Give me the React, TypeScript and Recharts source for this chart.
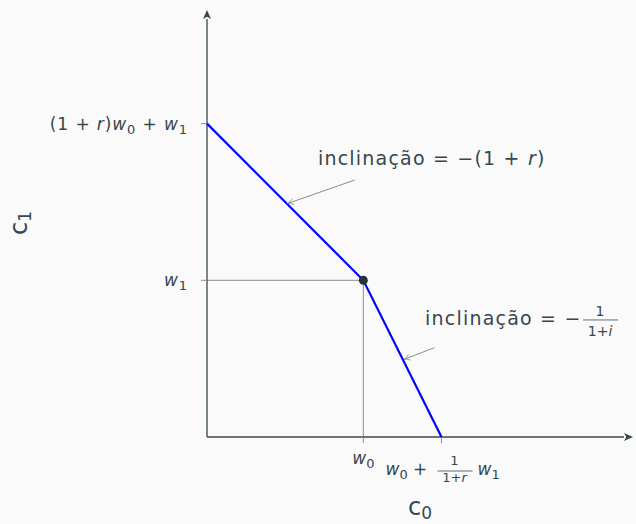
import { ComposedChart, Line, XAxis, YAxis, ReferenceLine, ReferenceDot } from 'recharts'

// budget line: endowment point (w0, w1) with r = 1
const c0 = [0, 2, 3]
const c1 = [4, 2, 0]
const xTicks = [2, 3]
const yTicks = [2, 4]
const endowment = [2, 2]
const axisMax = 5.45

// annotation anchors (data units): [x, y]
const note1At = [1.42, 3.47]
const note1Arrow = [[1.89, 3.28], [1.03, 2.98]]
const note2At = [2.79, 1.43]
const note2Arrow = [[2.91, 1.14], [2.52, 0.99]]

const data = c0.map((x, i) => ({ c0: x, c1: c1[i] }))

const INK = '#37474f'
const GRAY = '#8c8c8c'
const FONT = '"DejaVu Sans", sans-serif'

function YTick({ x, y, payload }: any) {
  return (
    <text x={x - 11} y={y + 6} textAnchor="end" fill={INK} fontSize={17} fontFamily={FONT} letterSpacing={0.9}>
      {payload.value === 4 ? (
        <>
          <tspan>(1 + </tspan>
          <tspan fontStyle="italic">r</tspan>
          <tspan>)</tspan>
          <tspan fontStyle="italic">w</tspan>
          <tspan fontSize={13} dy={4}>0</tspan>
          <tspan dy={-4}> + </tspan>
          <tspan fontStyle="italic">w</tspan>
          <tspan fontSize={13} dy={4}>1</tspan>
        </>
      ) : (
        <>
          <tspan fontStyle="italic">w</tspan>
          <tspan fontSize={13} dy={4}>1</tspan>
        </>
      )}
    </text>
  )
}

function XTick({ x, y, payload }: any) {
  if (payload.value === 2) {
    return (
      <text x={x} y={y + 19} textAnchor="middle" fill={INK} fontSize={17} fontFamily={FONT}>
        <tspan fontStyle="italic">w</tspan>
        <tspan fontSize={13} dy={4}>0</tspan>
      </text>
    )
  }
  const base = y + 30
  return (
    <g fill={INK} fontFamily={FONT} fontSize={17}>
      <text x={x - 56} y={base}>
        <tspan fontStyle="italic">w</tspan>
        <tspan fontSize={13} dy={4}>0</tspan>
        <tspan dy={-4}> +</tspan>
      </text>
      <text x={x + 13} y={base - 10} textAnchor="middle" fontSize={13}>1</text>
      <line x1={x - 4} x2={x + 31} y1={base - 4} y2={base - 4} stroke={INK} strokeWidth={0.8} />
      <text x={x + 13} y={base + 7} textAnchor="middle" fontSize={13}>
        <tspan>1+</tspan>
        <tspan fontStyle="italic">r</tspan>
      </text>
      <text x={x + 36} y={base}>
        <tspan fontStyle="italic">w</tspan>
        <tspan fontSize={13} dy={4}>1</tspan>
      </text>
    </g>
  )
}

function Note1({ cx, cy }: any) {
  return (
    <text x={cx} y={cy} fill={INK} fontSize={19} fontFamily={FONT} letterSpacing={1.2}>
      <tspan>inclinação = −(1 + </tspan>
      <tspan fontStyle="italic">r</tspan>
      <tspan>)</tspan>
    </text>
  )
}

function Note2({ cx, cy }: any) {
  return (
    <g fill={INK} fontFamily={FONT} fontSize={19}>
      <text x={cx} y={cy} letterSpacing={1.2}>inclinação = −</text>
      <text x={cx + 175} y={cy - 9} textAnchor="middle" fontSize={14}>1</text>
      <line x1={cx + 158} x2={cx + 193} y1={cy - 5} y2={cy - 5} stroke={INK} strokeWidth={0.8} />
      <text x={cx + 175} y={cy + 11} textAnchor="middle" fontSize={14}>
        <tspan>1+</tspan>
        <tspan fontStyle="italic">i</tspan>
      </text>
    </g>
  )
}

function arrowShape(filled: boolean, color: string, len: number, half: number, width: number) {
  return (p: any) => {
    const { x1, y1, x2, y2 } = p
    const a = Math.atan2(y2 - y1, x2 - x1)
    const bx = x2 - len * Math.cos(a)
    const by = y2 - len * Math.sin(a)
    const px = -Math.sin(a) * half
    const py = Math.cos(a) * half
    const qx = x2 - len * 0.4 * Math.cos(a)
    const qy = y2 - len * 0.4 * Math.sin(a)
    return (
      <g>
        <line x1={x1} y1={y1} x2={filled ? bx : x2} y2={filled ? by : y2} stroke={color} strokeWidth={width} />
        {filled ? (
          <path
            d={`M${x2},${y2} L${bx + px},${by + py} L${bx + len * 0.25 * Math.cos(a)},${by + len * 0.25 * Math.sin(a)} L${bx - px},${by - py} Z`}
            fill={color}
          />
        ) : (
          <path
            d={`M${bx + px},${by + py} Q${qx},${qy} ${x2},${y2} Q${qx},${qy} ${bx - px},${by - py}`}
            fill="none"
            stroke={color}
            strokeWidth={0.8}
          />
        )}
      </g>
    )
  }
}

export default function App() {
  return (
    <div style={{ position: 'absolute', left: 0, top: 0, width: 636, height: 524, background: '#fafafa' }}>
      <ComposedChart width={636} height={524} data={data} margin={{ top: 10, right: 3, bottom: 0, left: 0 }}>
        <XAxis
          dataKey="c0"
          type="number"
          domain={[0, axisMax]}
          ticks={xTicks}
          axisLine={false}
          tickLine={{ stroke: GRAY }}
          tickSize={6}
          tick={<XTick />}
          height={87}
        />
        <YAxis
          type="number"
          domain={[0, axisMax]}
          ticks={yTicks}
          axisLine={false}
          tickLine={{ stroke: GRAY }}
          tickSize={6}
          tick={<YTick />}
          width={207}
        />
        <ReferenceLine segment={[{ x: 0, y: endowment[1] }, { x: endowment[0], y: endowment[1] }]} stroke={GRAY} />
        <ReferenceLine segment={[{ x: endowment[0], y: 0 }, { x: endowment[0], y: endowment[1] }]} stroke={GRAY} />
        <ReferenceLine segment={[{ x: 0, y: 0 }, { x: axisMax, y: 0 }]} shape={arrowShape(true, INK, 9, 4, 1.3)} />
        <ReferenceLine segment={[{ x: 0, y: 0 }, { x: 0, y: axisMax }]} shape={arrowShape(true, INK, 9, 4, 1.3)} />
        <Line dataKey="c1" stroke="#0000ff" strokeWidth={2.2} dot={false} isAnimationActive={false} />
        <ReferenceDot x={endowment[0]} y={endowment[1]} r={4.5} fill="#263238" stroke="none" />
        <ReferenceLine segment={note1Arrow.map(([x, y]) => ({ x, y }))} shape={arrowShape(false, GRAY, 6, 3, 1)} />
        <ReferenceLine segment={note2Arrow.map(([x, y]) => ({ x, y }))} shape={arrowShape(false, GRAY, 6, 3, 1)} />
        <ReferenceDot x={note1At[0]} y={note1At[1]} r={0} shape={<Note1 />} />
        <ReferenceDot x={note2At[0]} y={note2At[1]} r={0} shape={<Note2 />} />
      </ComposedChart>
      <svg width={636} height={524} style={{ position: 'absolute', left: 0, top: 0, pointerEvents: 'none' }}>
        <text x={420} y={515} textAnchor="middle" fill={INK} fontSize={24} fontFamily={FONT}>
          <tspan>c</tspan>
          <tspan fontSize={17} dy={4}>0</tspan>
        </text>
        <text transform="translate(27,223) rotate(-90)" textAnchor="middle" fill={INK} fontSize={24} fontFamily={FONT}>
          <tspan>c</tspan>
          <tspan fontSize={17} dy={4}>1</tspan>
        </text>
      </svg>
    </div>
  )
}
